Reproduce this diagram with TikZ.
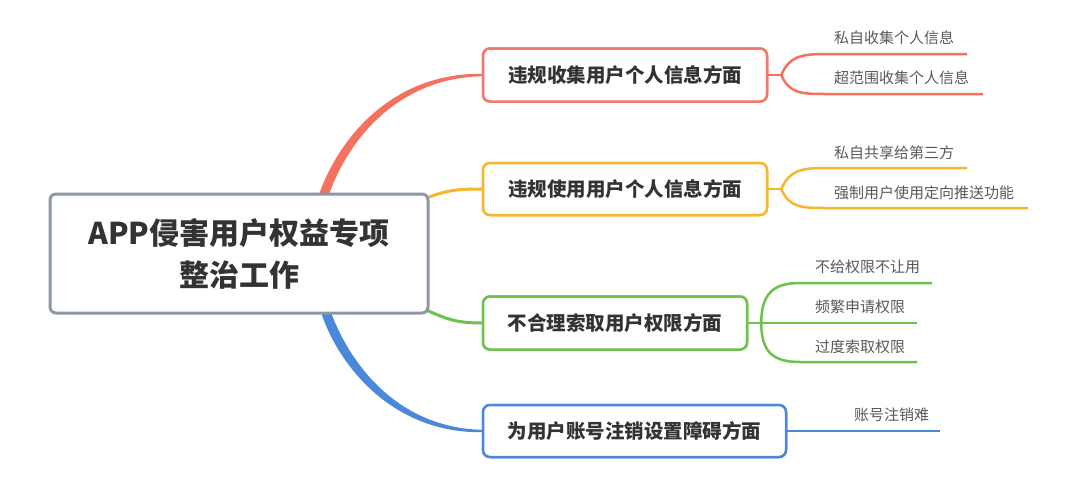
\documentclass[tikz,border=0pt]{standalone}
\usepackage{fontspec}
\setmainfont{Noto Sans CJK SC}
\usetikzlibrary{calc}
\definecolor{cred}{HTML}{F5705F}
\definecolor{credbox}{HTML}{F2786E}
\definecolor{cyel}{HTML}{F8B62D}
\definecolor{cgrn}{HTML}{6CC24A}
\definecolor{cblu}{HTML}{4B88DA}
\definecolor{cgry}{HTML}{8D97A6}
\definecolor{ctxt}{HTML}{333333}
\definecolor{cleaf}{HTML}{595959}
\begin{document}
\begin{tikzpicture}[x=1pt,y=-1pt,
  rootbox/.style={draw=cgry,line width=3pt,rounded corners=6pt,fill=white,
    minimum width=378pt,minimum height=119pt,align=center,text=ctxt,
    font=\fontsize{30}{42}\selectfont\bfseries,inner sep=0pt},
  catbox/.style={line width=2.5pt,rounded corners=7pt,fill=white,
    minimum height=53pt,text=ctxt,font=\fontsize{19.5}{22}\selectfont\bfseries,inner sep=0pt},
  leaf/.style={anchor=west,text=cleaf,font=\fontsize{15}{17}\selectfont,inner sep=0pt},
  leafline/.style={line width=2.5pt},
  midline/.style={line width=3pt}]
\useasboundingbox (0,0) rectangle (1080,496);
\fill[white] (0,0) rectangle (1080,496);

% coordinates of free ends
\coordinate (e11) at (967,54);
\coordinate (e12) at (983,94);
\coordinate (e21) at (967,168);
\coordinate (e22) at (1028,208);
\coordinate (e31) at (932,283);
\coordinate (e32) at (917,323);
\coordinate (e33) at (917,362);
\coordinate (e41) at (940,431);

% category boxes
\node[catbox,draw=credbox,minimum width=284pt] (c1) at (625,75) {违规收集用户个人信息方面};
\node[catbox,draw=cyel,minimum width=284pt,minimum height=52pt] (c2) at (625,189) {违规使用用户个人信息方面};
\node[catbox,draw=cgrn,minimum width=264pt] (c3) at (615,323) {不合理索取用户权限方面};
\node[catbox,draw=cblu,minimum width=303pt,minimum height=52pt] (c4) at (634.5,431) {为用户账号注销设置障碍方面};

% root position (defined before drawing the main connectors)
\path (239,253.5) node[rootbox,draw=none,fill=none,text opacity=0] (root) {APP侵害用户权益专项\\整治工作};

% main connectors (tapered)
\fill[cred] ($(root.north)+(80,2)$) .. controls +(22,-62) and +(-85,-1) .. ($(c1.west)+(0,-1.2)$)
  -- ($(c1.west)+(0,1.2)$) .. controls +(-81,2) and +(21,-59) .. ($(root.north)+(90,2)$) -- cycle;
\fill[cblu] ($(root.south)+(82,-2)$) .. controls +(20,59) and +(-85,1) .. ($(c4.west)+(0,1.2)$)
  -- ($(c4.west)+(0,-1.2)$) .. controls +(-81,-2) and +(21,56) .. ($(root.south)+(92,-2)$) -- cycle;
\draw[cyel,midline] ($(root.north east)+(-2,5)$) .. controls +(22,-8) and +(-22,0) .. (c2.west);
\draw[cgrn,midline] ($(root.south east)+(-2,-4)$) .. controls +(22,10) and +(-22,0) .. (c3.west);

% root box on top
\node[rootbox] (rootv) at (root) {APP侵害用户权益专项\\整治工作};

% redraw category boxes borders on top of connectors
\node[catbox,draw=credbox,minimum width=284pt] at (c1) {违规收集用户个人信息方面};
\node[catbox,draw=cyel,minimum width=284pt,minimum height=52pt] at (c2) {违规使用用户个人信息方面};
\node[catbox,draw=cgrn,minimum width=264pt] at (c3) {不合理索取用户权限方面};
\node[catbox,draw=cblu,minimum width=303pt,minimum height=52pt] at (c4) {为用户账号注销设置障碍方面};

% leaf branches
\draw[cred,leafline] ($(c1.east)+(-1,0)$) -- ++(14,0) coordinate (f1);
\draw[cred,leafline] (f1) .. controls +(8,-18) and +(-25,0) .. (825,54) -- (e11);
\draw[cred,leafline] (f1) .. controls +(8,18) and +(-25,0) .. (825,94) -- (e12);

\draw[cyel,leafline] ($(c2.east)+(-1,0)$) -- ++(14,0) coordinate (f2);
\draw[cyel,leafline] (f2) .. controls +(8,-18) and +(-25,0) .. (825,168) -- (e21);
\draw[cyel,leafline] (f2) .. controls +(8,18) and +(-25,0) .. (825,208) -- (e22);

\draw[cgrn,leafline] ($(c3.east)+(-1,0)$) -- ++(14,0) coordinate (f3);
\draw[cgrn,leafline] (f3) .. controls +(0,-30) and +(-26,0) .. (800,283) -- (e31);
\draw[cgrn,leafline] (f3) -- (e32);
\draw[cgrn,leafline] (f3) .. controls +(0,30) and +(-26,0) .. (800,362) -- (e33);

\draw[cblu,leafline] ($(c4.east)+(-1,0)$) -- (e41);

% leaf labels
\node[leaf] (l11) at (834,38) {私自收集个人信息};
\node[leaf] (l12) at (834,78) {超范围收集个人信息};
\node[leaf] (l21) at (834,153) {私自共享给第三方};
\node[leaf] (l22) at (834,193) {强制用户使用定向推送功能};
\node[leaf] (l31) at (815,267) {不给权限不让用};
\node[leaf] (l32) at (815,307) {频繁申请权限};
\node[leaf] (l33) at (815,347) {过度索取权限};
\node[leaf] (l41) at (854,415) {账号注销难};
\end{tikzpicture}
\end{document}
